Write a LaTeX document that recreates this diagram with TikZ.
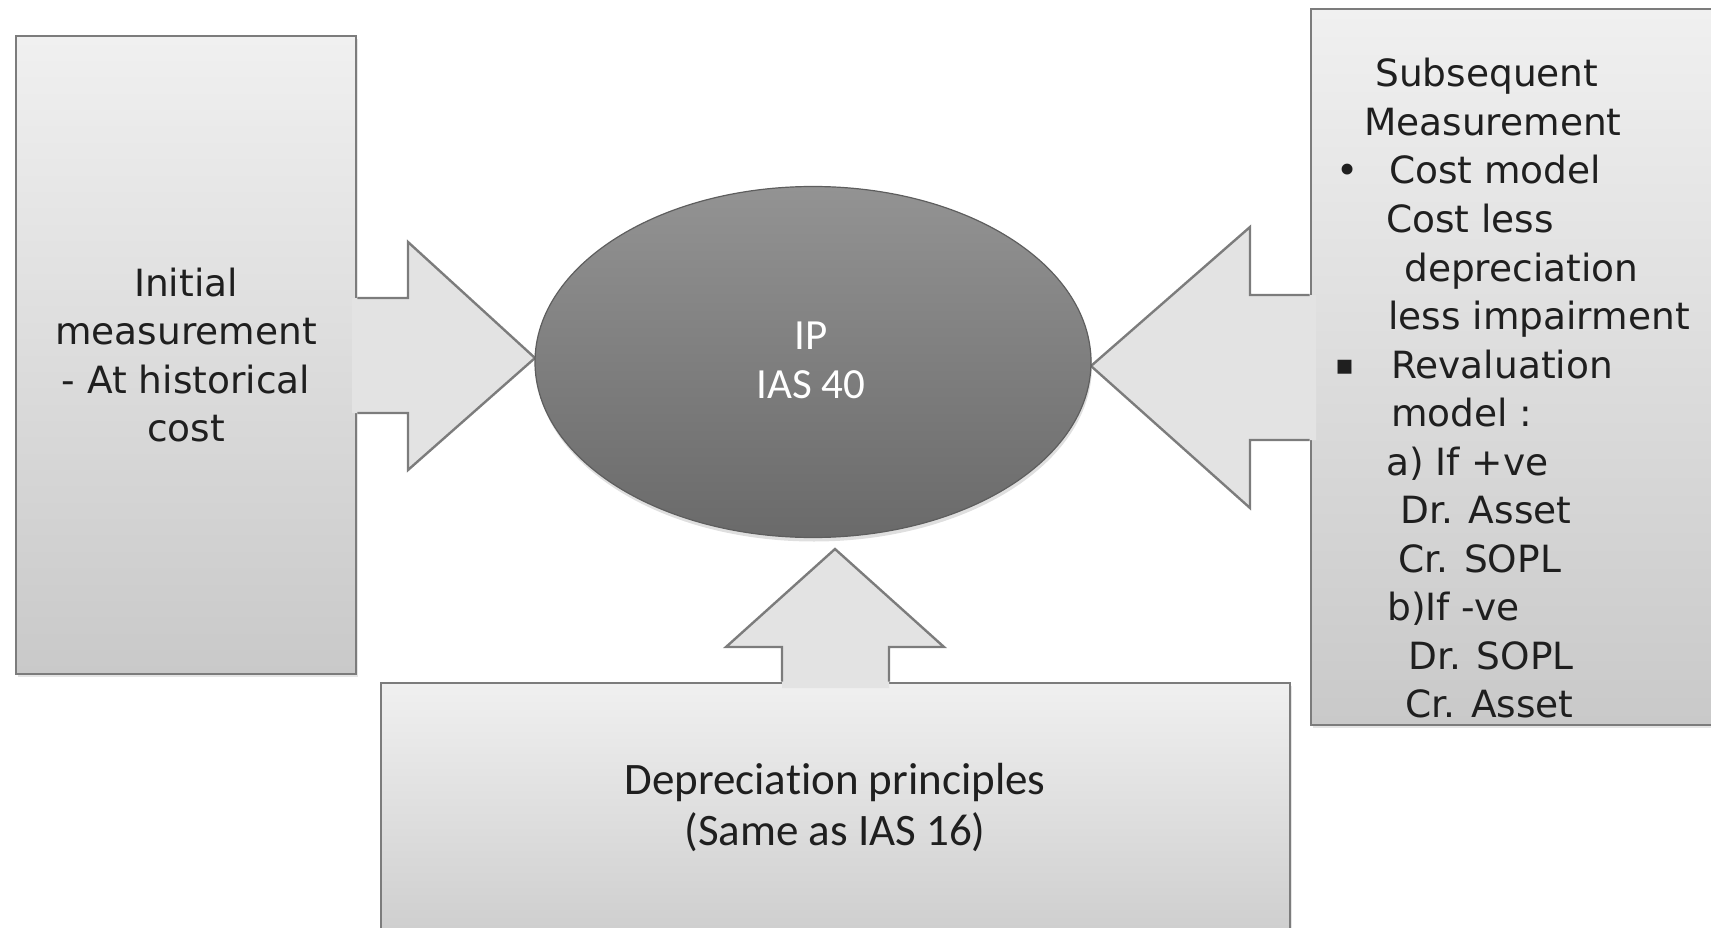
\documentclass[tikz,border=0pt]{standalone}
\usepackage{fontspec}
\setmainfont{DejaVu Sans}
\newfontfamily\carl[Ligatures=NoCommon]{Carlito}
\usetikzlibrary{shapes.geometric,shadows}
\definecolor{edgegray}{HTML}{7C7C7C}
\definecolor{boxtop}{HTML}{F0F0F0}
\definecolor{boxbot}{HTML}{C9C9C9}
\definecolor{arrowfill}{HTML}{E3E3E3}
\definecolor{elltop}{HTML}{939393}
\definecolor{ellbot}{HTML}{6A6A6A}
\definecolor{elledge}{HTML}{5E5E5E}
\tikzset{
  panel/.style={rectangle, draw=edgegray, line width=2.6pt, top color=boxtop, bottom color=boxbot,
    inner sep=0pt, drop shadow={shadow xshift=2pt, shadow yshift=-3pt, opacity=0.25, fill=black!40}},
  blockfill/.style={fill=arrowfill},
  blockline/.style={draw=edgegray, line width=2.4pt, line join=miter},
  boxtext/.style={font=\fontsize{37.5}{48.5}\selectfont, text=black!88, inner sep=0pt},
  rtext/.style={boxtext, anchor=base west},
}
\begin{document}
\begin{tikzpicture}[x=1pt,y=-1pt]
\useasboundingbox (0,0) rectangle (1711,928);
\begin{scope}
\clip (0,0) rectangle (1711,928);
% boxes
\node[panel, minimum width=340pt, minimum height=638pt] (init) at (186,355) {};
\node[panel, minimum width=419pt, minimum height=716pt] (subs) at (1520.5,367) {};
\node[panel, minimum width=909pt, minimum height=290pt] (depr) at (835.5,828) {};
% tips
\coordinate (ltip) at (535,358);
\coordinate (rtip) at (1091,366);
\coordinate (btip) at (835,549);
% left block arrow
\fill[blockfill] (352,298) -- (408,298) -- (408,242) -- (ltip) -- (408,470) -- (408,413) -- (352,413) -- cycle;
\draw[blockline] (init.east |- 0,298) -- (408,298) -- (408,242) -- (ltip) -- (408,470) -- (408,413) -- (init.east |- 0,413);
% right block arrow
\fill[blockfill] (1316,295) -- (1250,295) -- (1250,227) -- (rtip) -- (1250,508) -- (1250,440) -- (1316,440) -- cycle;
\draw[blockline] (subs.west |- 0,295) -- (1250,295) -- (1250,227) -- (rtip) -- (1250,508) -- (1250,440) -- (subs.west |- 0,440);
% bottom block arrow
\fill[blockfill] (782,688) -- (782,647) -- (726,647) -- (btip) -- (944,647) -- (889,647) -- (889,688) -- cycle;
\draw[blockline] (782,0 |- depr.north) -- (782,647) -- (726,647) -- (btip) -- (944,647) -- (889,647) -- (889,0 |- depr.north);
% ellipse
\node[ellipse, minimum width=556pt, minimum height=351pt, inner sep=0pt, draw=elledge, line width=1.2pt,
  top color=elltop, bottom color=ellbot,
  drop shadow={shadow xshift=1pt, shadow yshift=-4pt, opacity=0.25, fill=black!50}] (ip) at (813,362) {};
\node[text=white, font=\carl\fontsize{43}{49}\selectfont, align=center, inner sep=0pt] (iptext) at (811,360) {IP\\IAS 40};
% texts
\node[boxtext, align=center] (inittext) at (186,355) {Initial\\measurement\\- At historical\\cost};
\node[font=\carl\fontsize{45}{51}\selectfont, text=black!88, align=center, inner sep=0pt] (deprtext) at (835,807) {Depreciation principles\\(Same as IAS 16)};
\node[rtext] (s1) at (1375,87) {Subsequent};
\node[rtext] (s2) at (1364,135.5) {Measurement};
\node[rtext] (b1) at (1336,184) {•};
\node[rtext] (s3) at (1389,184) {Cost model};
\node[rtext] (s4) at (1386,232.5) {Cost less};
\node[rtext] (s5) at (1404,281) {depreciation};
\node[rtext] (s6) at (1388,329.5) {less impairment};
\node[rtext, font=\fontsize{28}{30}\selectfont] (b2) at (1335,374) {▪};
\node[rtext] (s7) at (1391,378) {Revaluation};
\node[rtext] (s8) at (1391,426.5) {model :};
\node[rtext] (s9) at (1386,475) {a) If +ve};
\node[rtext] (s10) at (1400,523.5) {Dr. Asset};
\node[rtext] (s11) at (1398,572) {Cr. SOPL};
\node[rtext] (s12) at (1387,620.5) {b)If -ve};
\node[rtext] (s13) at (1408,669) {Dr. SOPL};
\node[rtext] (s14) at (1405,717.5) {Cr. Asset};
\end{scope}
\end{tikzpicture}
\end{document}
